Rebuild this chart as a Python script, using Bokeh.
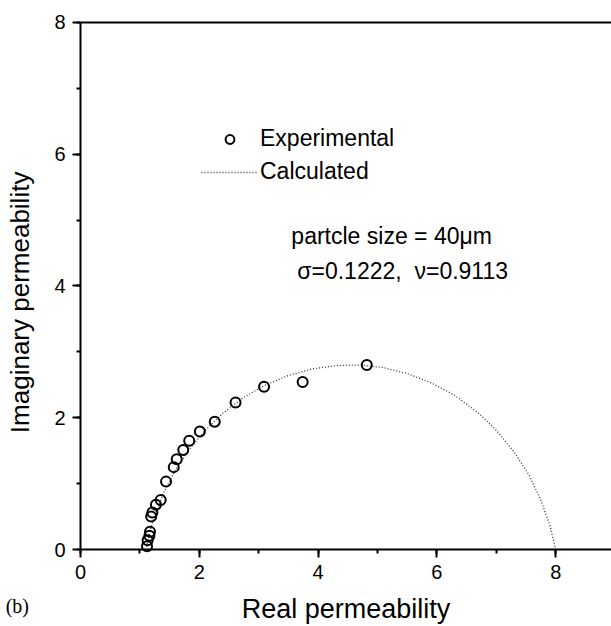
import math
from bokeh.plotting import figure
from bokeh.models import (Label, Legend, LegendItem, LinearAxis, FixedTicker,
                          SingleIntervalTicker, Range1d)
from bokeh.embed import file_html
from bokeh.resources import INLINE

# ---- data ----
exp_real = [1.12, 1.13, 1.16, 1.17, 1.19, 1.21, 1.27, 1.35, 1.44, 1.57,
            1.62, 1.73, 1.83, 2.01, 2.26, 2.61, 3.09, 3.74, 4.82]
exp_imag = [0.05, 0.14, 0.21, 0.27, 0.50, 0.56, 0.68, 0.75, 1.03, 1.25,
            1.37, 1.51, 1.65, 1.79, 1.94, 2.23, 2.47, 2.54, 2.80]

calc_real = [1.10, 1.15, 1.25, 1.40, 1.60, 1.85, 2.10, 2.40, 2.75, 3.10,
             3.50, 3.90, 4.30, 4.70, 5.10, 5.50, 5.90, 6.30, 6.70, 7.00,
             7.30, 7.55, 7.75, 7.90, 8.00]
calc_imag = [0.00, 0.21, 0.52, 0.86, 1.21, 1.54, 1.81, 2.07, 2.31, 2.49,
             2.64, 2.74, 2.79, 2.80, 2.76, 2.67, 2.53, 2.34, 2.07, 1.81,
             1.48, 1.13, 0.75, 0.37, 0.00]

x_axis_bounds = (0, 8.94)
y_axis_bounds = (0, 8)
x_ticks_major = 2
y_ticks_major = 2

FONT = "Liberation Sans"

W, H = 611, 626
px_x0, px_per_x = 80.0, 59.4      # pixel of x=0, pixels per unit
px_y0, px_per_y = 549.0, 65.9     # pixel row of y=0, pixels per unit

p = figure(width=W, height=H, output_backend="svg", toolbar_location=None,
           x_range=Range1d(-px_x0 / px_per_x, (W - px_x0) / px_per_x),
           y_range=Range1d(-(H - px_y0) / px_per_y, px_y0 / px_per_y),
           min_border=0)
p.outline_line_color = None
p.xgrid.visible = False
p.ygrid.visible = False
p.background_fill_color = "white"
p.border_fill_color = "white"

calc = p.line(calc_real, calc_imag, line_color="#333333", line_width=1.3,
              line_dash="1 2")
exp = p.scatter(exp_real, exp_imag, marker="circle", size=10,
                fill_color=None, line_color="black", line_width=2)

xa, ya = p.xaxis[0], p.yaxis[0]
xa.fixed_location = 0
xa.bounds = x_axis_bounds
ya.fixed_location = 0
ya.bounds = y_axis_bounds
for ax, iv in ((xa, x_ticks_major), (ya, y_ticks_major)):
    ax.ticker = SingleIntervalTicker(interval=iv, num_minor_ticks=2)
    ax.axis_line_width = 2
    ax.major_tick_line_width = 2
    ax.minor_tick_line_width = 2
    ax.major_tick_out = 8
    ax.major_tick_in = 0
    ax.minor_tick_out = 4
    ax.minor_tick_in = 0
    ax.major_label_text_font = FONT
    ax.major_label_text_font_size = "20px"
    ax.major_label_text_color = "black"
    ax.major_label_standoff = 7

top_axis = LinearAxis(ticker=FixedTicker(ticks=[]), axis_line_width=2,
                      major_tick_line_color=None, minor_tick_line_color=None,
                      fixed_location=y_axis_bounds[1], bounds=x_axis_bounds)
p.add_layout(top_axis, "above")

legend = Legend(items=[LegendItem(label="Experimental", renderers=[exp]),
                       LegendItem(label="Calculated", renderers=[calc])],
                location=(201, 441), padding=0, margin=0, spacing=6,
                glyph_width=57, glyph_height=22, label_height=22,
                label_standoff=2, border_line_color=None,
                background_fill_alpha=0, label_text_font=FONT,
                label_text_font_size="23px", label_text_color="black")
p.add_layout(legend, "center")

def label(x, y, text, size, **kw):
    p.add_layout(Label(x=x, y=y, text=text, text_font=kw.pop("font", FONT),
                       text_font_size=size, text_color="black",
                       text_baseline="middle",
                       text_align=kw.pop("align", "left"), **kw))

label(3.55, 4.75, "partcle size = 40\u03bcm", "23px")
label(3.65, 4.23, "\u03c3=0.1222,\u00a0 \u03bd=0.9113", "23px")
label(4.47, -0.90, "Real permeability", "27px", align="center")
label(-1.02, 3.75, "Imaginary permeability", "26px", align="center",
      angle=math.pi / 2)
label(-1.26, -0.85, "(b)", "20px", font="Liberation Serif")

open("out.html", "w").write(file_html(p, INLINE))
